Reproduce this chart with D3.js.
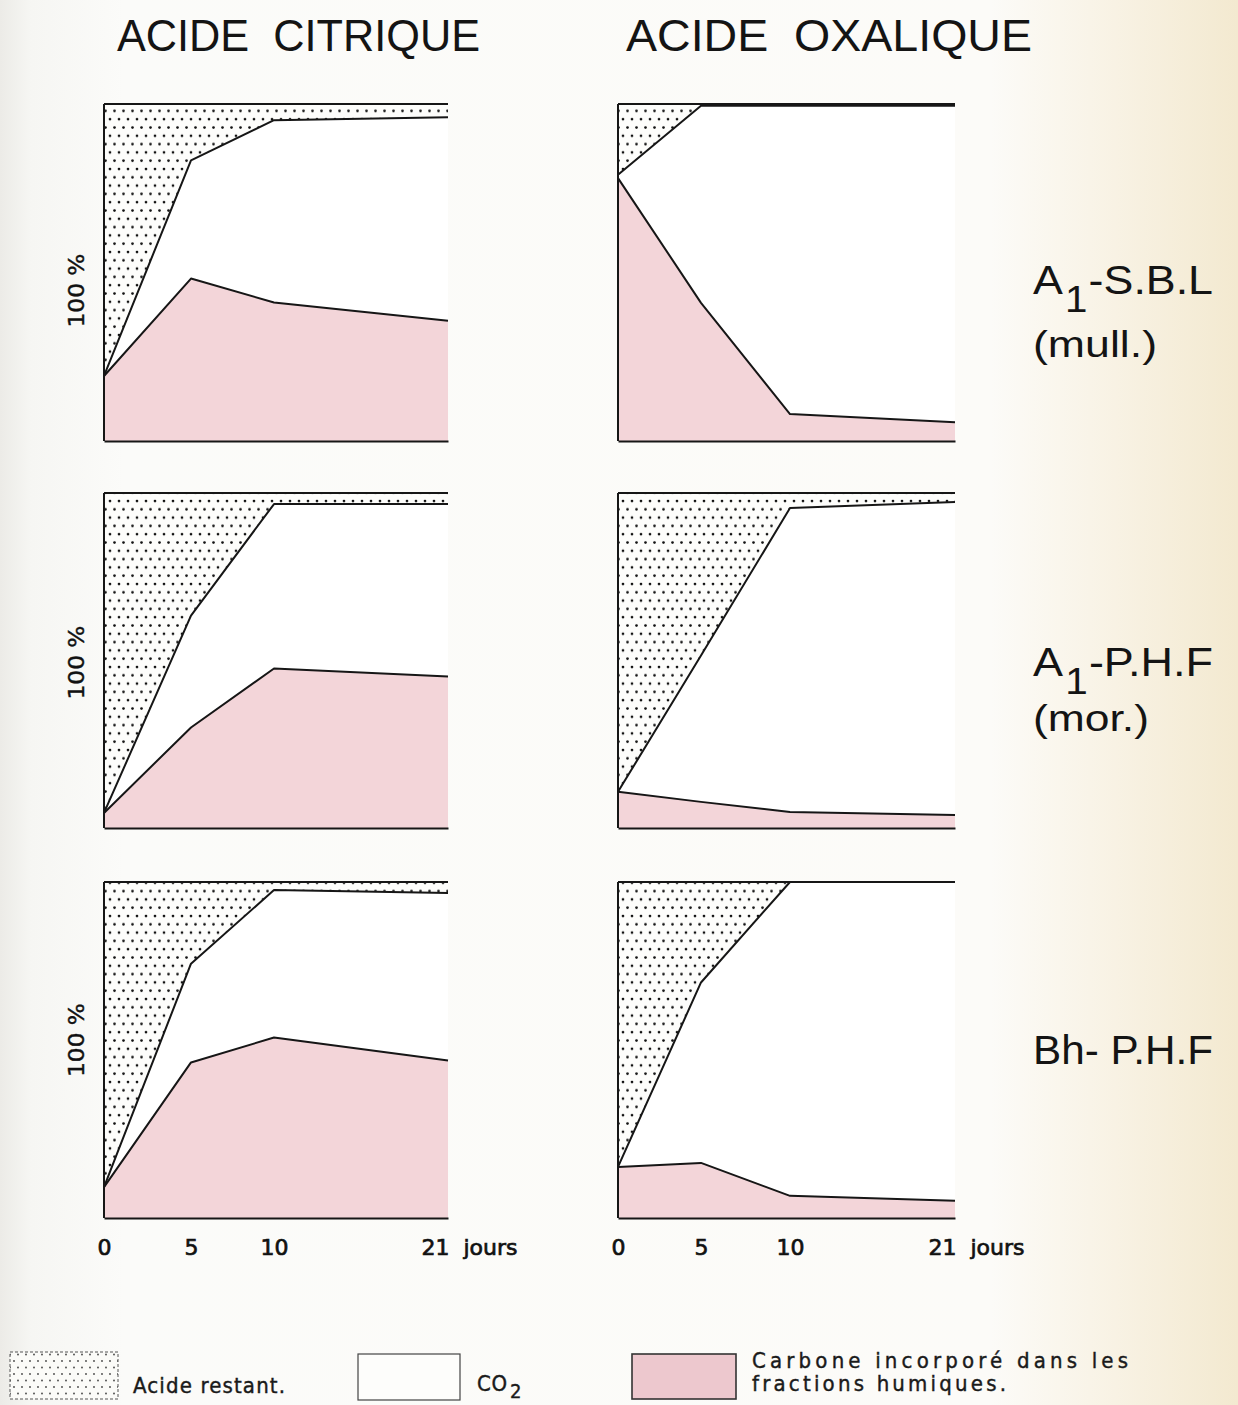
<!DOCTYPE html>
<html>
<head>
<meta charset="utf-8">
<script src="https://cdn.jsdelivr.net/npm/d3@7"></script>
<style>
html, body { margin: 0; padding: 0; background: #fff; }
svg { display: block; }
</style>
</head>
<body>
<svg id="chart" width="1238" height="1405"></svg>
<script>
// ---------------- DATA ----------------
const days = [0, 5, 10, 21];
const tickLabels = ["0", "5", "10", "21  jours"];
const acidTitles = ["ACIDE  CITRIQUE", "ACIDE  OXALIQUE"];
const soilMain = [["A", "1", "-S.B.L"], ["A", "1", "-P.H.F"], ["Bh- P.H.F", "", ""]];
const soilSub = ["(mull.)", "(mor.)", ""];
const yLabel = "100 %";

// % of acid remaining (dotted, from the top) and % of carbon incorporated (pink, from the bottom)
const acidCitriqueSBL   = [80.7, 16.7, 4.8, 3.9];
const carbonCitriqueSBL = [19.3, 48.2, 41.1, 35.7];
const acidOxaliqueSBL   = [21.0, 0.5, 0.5, 0.5];
const carbonOxaliqueSBL = [78.0, 41.0, 8.0, 5.6];
const acidCitriquePHF   = [95.5, 36.6, 3.3, 3.3];
const carbonCitriquePHF = [4.5, 30.0, 47.6, 45.2];
const acidOxaliquePHF   = [89.2, 48.5, 4.5, 2.7];
const carbonOxaliquePHF = [10.8, 7.8, 4.8, 3.9];
const acidCitriqueBh    = [90.8, 24.3, 2.4, 3.3];
const carbonCitriqueBh  = [9.2, 46.3, 53.7, 46.9];
const acidOxaliqueBh    = [84.8, 29.9, 0.0, 0.0];
const carbonOxaliqueBh  = [15.2, 16.4, 6.6, 5.1];

const legendLabels = ["Acide restant.", "CO", "Carbone incorporé dans les", "fractions humiques."];

const panels = [
  { row: 0, col: 0, acid: acidCitriqueSBL, carbon: carbonCitriqueSBL },
  { row: 0, col: 1, acid: acidOxaliqueSBL, carbon: carbonOxaliqueSBL },
  { row: 1, col: 0, acid: acidCitriquePHF, carbon: carbonCitriquePHF },
  { row: 1, col: 1, acid: acidOxaliquePHF, carbon: carbonOxaliquePHF },
  { row: 2, col: 0, acid: acidCitriqueBh, carbon: carbonCitriqueBh },
  { row: 2, col: 1, acid: acidOxaliqueBh, carbon: carbonOxaliqueBh }
];

// ---------------- LAYOUT ----------------
const colRanges = [[104, 191, 274, 448], [618, 701, 790, 955]];
const rowRanges = [[441, 104], [828, 493], [1218, 882]];
const ink = "#161616";
const pink = "#f3d5d9";

const svg = d3.select("#chart");
const defs = svg.append("defs");

// background paper
const bg = defs.append("linearGradient").attr("id", "paper").attr("x1", 0).attr("x2", 1).attr("y1", 0).attr("y2", 0);
[["0%", "#ecebe7"], ["2.5%", "#f6f6f3"], ["10%", "#fbfbf9"], ["80%", "#fcfbf8"], ["88%", "#f9f4e8"], ["100%", "#f3e9d0"]]
  .forEach(([o, c]) => bg.append("stop").attr("offset", o).attr("stop-color", c));
svg.append("rect").attr("width", 1238).attr("height", 1405).attr("fill", "url(#paper)");

// dotted pattern
const pat = defs.append("pattern").attr("id", "dots").attr("patternUnits", "userSpaceOnUse")
  .attr("width", 9).attr("height", 16.6);
pat.append("rect").attr("width", 9).attr("height", 16.6).attr("fill", "#fdfdfb");
pat.append("circle").attr("cx", 2).attr("cy", 3).attr("r", 1.35).attr("fill", "#111");
pat.append("circle").attr("cx", 6.5).attr("cy", 11.3).attr("r", 1.35).attr("fill", "#111");

const pat2 = defs.append("pattern").attr("id", "dotsSmall").attr("patternUnits", "userSpaceOnUse")
  .attr("width", 8).attr("height", 13);
pat2.append("rect").attr("width", 8).attr("height", 13).attr("fill", "#fbfbf8");
pat2.append("circle").attr("cx", 2).attr("cy", 2.5).attr("r", 0.9).attr("fill", "#444");
pat2.append("circle").attr("cx", 6).attr("cy", 9).attr("r", 0.9).attr("fill", "#444");

// ---------------- PANELS ----------------
panels.forEach(p => {
  const x = d3.scaleLinear().domain(days).range(colRanges[p.col]);
  const y = d3.scaleLinear().domain([0, 100]).range(rowRanges[p.row]);
  const data = days.map((d, i) => ({ day: d, acid: p.acid[i], carbon: p.carbon[i] }));
  const g = svg.append("g");

  // white plot background (CO2)
  g.append("path")
    .datum(data)
    .attr("fill", "#ffffff")
    .attr("d", d3.area().x(d => x(d.day)).y0(y(0)).y1(y(100)));

  // carbon incorporated (pink)
  g.append("path")
    .datum(data)
    .attr("fill", pink)
    .attr("d", d3.area().x(d => x(d.day)).y0(y(0)).y1(d => y(d.carbon)));

  // acid remaining (dotted)
  g.append("path")
    .datum(data)
    .attr("fill", "url(#dots)")
    .attr("d", d3.area().x(d => x(d.day)).y0(y(100)).y1(d => y(100 - d.acid)));

  const line = acc => d3.line().x(d => x(d.day)).y(acc);
  g.append("path").datum(data).attr("fill", "none").attr("stroke", ink).attr("stroke-width", 2)
    .attr("stroke-linejoin", "round").attr("d", line(d => y(d.carbon)));
  g.append("path").datum(data).attr("fill", "none").attr("stroke", ink).attr("stroke-width", 2)
    .attr("stroke-linejoin", "round").attr("d", line(d => y(100 - d.acid)));
  g.append("path").datum(data).attr("fill", "none").attr("stroke", ink).attr("stroke-width", 2)
    .attr("d", line(() => y(100)));

  // left axis
  g.append("line").attr("x1", x(0)).attr("x2", x(0)).attr("y1", y(100)).attr("y2", y(0))
    .attr("stroke", ink).attr("stroke-width", 2);

  // bottom axis
  const axis = d3.axisBottom(x).tickValues(days).tickSize(0).tickPadding(16)
    .tickFormat((d, i) => tickLabels[i]);
  const ag = g.append("g").attr("transform", `translate(0,${y(0)})`).call(axis);
  ag.select(".domain").attr("stroke", ink).attr("stroke-width", 2);
  if (p.row === 2) {
    ag.selectAll(".tick text")
      .attr("fill", "#111")
      .attr("stroke", "#111").attr("stroke-width", 0.7)
      .attr("font-family", "'DejaVu Sans', sans-serif")
      .attr("font-size", 22)
      .attr("dy", "0.95em")
      .attr("text-anchor", (d, i) => i === days.length - 1 ? "start" : "middle")
      .attr("dx", (d, i) => i === days.length - 1 ? -27 : 0)
      .style("white-space", "pre");
  } else {
    ag.selectAll(".tick text").remove();
  }

  // 100 % label (left column only)
  if (p.col === 0) {
    const cy = (y(0) + y(100)) / 2 + [18, 2, -10][p.row];
    svg.append("text")
      .attr("transform", `translate(84,${cy}) rotate(-90)`)
      .attr("text-anchor", "middle")
      .attr("font-family", "'DejaVu Sans', sans-serif")
      .attr("font-size", 21)
      .attr("fill", "#111")
      .attr("stroke", "#111").attr("stroke-width", 0.4)
      .attr("textLength", 74)
      .attr("lengthAdjust", "spacingAndGlyphs")
      .text(yLabel);
  }
});

// ---------------- TITLES ----------------
const titleX = [[117, 363], [626, 406]];
acidTitles.forEach((t, i) => {
  svg.append("text")
    .attr("x", titleX[i][0]).attr("y", 51)
    .attr("font-family", "'Liberation Sans', Arial, sans-serif")
    .attr("font-size", 45)
    .attr("fill", "#141414")
    .attr("textLength", titleX[i][1])
    .attr("lengthAdjust", "spacingAndGlyphs")
    .style("white-space", "pre")
    .text(t);
});

// ---------------- ROW LABELS ----------------
const mainBase = [294, 676, 1064];
const subBase = [357, 731, 0];
soilMain.forEach((parts, i) => {
  const t = svg.append("text")
    .attr("x", 1033).attr("y", mainBase[i])
    .attr("font-family", "'Liberation Sans', Arial, sans-serif")
    .attr("font-size", 40)
    .attr("fill", "#141414")
    .attr("textLength", 180)
    .attr("lengthAdjust", "spacingAndGlyphs")
    .style("white-space", "pre");
  t.append("tspan").text(parts[0]);
  if (parts[1]) {
    t.append("tspan").attr("font-size", 36).attr("dy", 18).attr("dx", 2).text(parts[1]);
    t.append("tspan").attr("dy", -18).attr("dx", 1).text(parts[2]);
  }
  if (soilSub[i]) {
    svg.append("text")
      .attr("x", 1033).attr("y", subBase[i])
      .attr("font-family", "'Liberation Sans', Arial, sans-serif")
      .attr("font-size", 36)
      .attr("fill", "#141414")
      .attr("textLength", i === 0 ? 124 : 116)
      .attr("lengthAdjust", "spacingAndGlyphs")
      .text(soilSub[i]);
  }
});

// ---------------- LEGEND ----------------
const lg = svg.append("g");
lg.append("rect").attr("x", 10).attr("y", 1352).attr("width", 108).attr("height", 47)
  .attr("fill", "url(#dotsSmall)").attr("stroke", "#555").attr("stroke-width", 1).attr("stroke-dasharray", "3,2");
lg.append("rect").attr("x", 358).attr("y", 1354).attr("width", 102).attr("height", 46)
  .attr("fill", "#fdfdfb").attr("stroke", "#444").attr("stroke-width", 1.2);
lg.append("rect").attr("x", 632).attr("y", 1354).attr("width", 104).attr("height", 45)
  .attr("fill", "#edc8ce").attr("stroke", "#333").attr("stroke-width", 1.6);

const legendFont = "'DejaVu Sans Condensed', 'Liberation Sans', sans-serif";
const legText = (x, y, len, str) => {
  const t = lg.append("text")
    .attr("x", x).attr("y", y)
    .attr("font-family", legendFont)
    .attr("font-size", 22)
    .attr("fill", "#1a1a1a")
    .attr("stroke", "#1a1a1a").attr("stroke-width", 0.4)
    .text(str);
  if (len) t.attr("textLength", len).attr("lengthAdjust", "spacing");
  return t;
};
legText(133, 1393, 152, legendLabels[0]);
legText(477, 1391, 30, legendLabels[1]);
lg.append("text").attr("x", 510).attr("y", 1398)
  .attr("font-family", legendFont).attr("font-size", 20).attr("fill", "#1a1a1a")
  .attr("stroke", "#1a1a1a").attr("stroke-width", 0.4).text("2");
legText(752, 1368, 376, legendLabels[2]);
legText(752, 1391, 254, legendLabels[3]);
</script>
</body>
</html>
